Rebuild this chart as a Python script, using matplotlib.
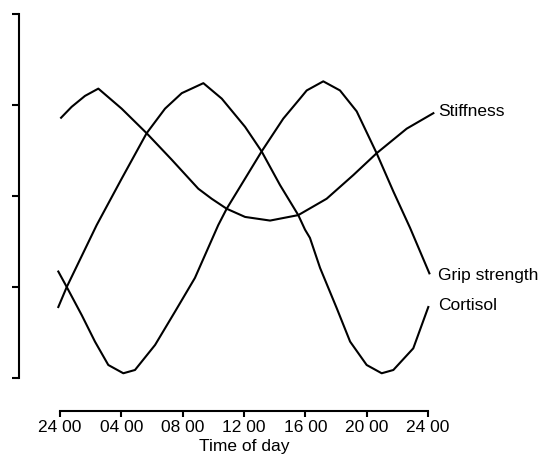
import numpy as np
import matplotlib
matplotlib.use("Agg")
import matplotlib.pyplot as plt

# hours after midnight, values in axis units (0-4)
stiff_h = [0.07, 0.76, 1.63, 2.50, 4.02, 5.65, 7.28, 9.02, 9.89, 10.87, 12.07, 13.70,
           15.54, 17.39, 19.13, 20.65, 22.61, 24.35]
stiff_v = [2.86, 2.98, 3.10, 3.18, 2.96, 2.69, 2.40, 2.08, 1.97, 1.86, 1.77, 1.73,
           1.79, 1.97, 2.23, 2.47, 2.74, 2.91]

grip_h = [-0.11, 0.44, 1.42, 2.28, 3.15, 4.13, 4.89, 6.20, 7.50, 8.80, 10.32, 10.87,
          11.74, 13.15, 14.56, 15.65, 16.09, 17.17, 18.26, 19.35, 20.65, 21.74, 22.83, 24.09]
grip_v = [1.17, 1.00, 0.69, 0.40, 0.143, 0.052, 0.088, 0.363, 0.729, 1.10, 1.68, 1.86,
          2.10, 2.49, 2.85, 3.07, 3.16, 3.26, 3.16, 2.93, 2.47, 2.05, 1.65, 1.15]

cort_h = [-0.11, 0.44, 2.39, 4.02, 5.65, 6.85, 7.94, 9.35, 10.55, 12.07, 13.15, 14.35,
          15.54, 15.98, 16.30, 16.96, 18.05, 18.92, 20.0, 20.98, 21.74, 23.04, 24.02]
cort_v = [0.78, 1.00, 1.68, 2.19, 2.69, 2.96, 3.13, 3.24, 3.07, 2.76, 2.49, 2.12,
          1.79, 1.63, 1.54, 1.21, 0.766, 0.40, 0.143, 0.052, 0.088, 0.326, 0.78]

xticks = [0, 4, 8, 12, 16, 20, 24]
xlabels = ["24 00", "04 00", "08 00", "12 00", "16 00", "20 00", "24 00"]
yticks = [0, 1, 2, 3, 4]

plt.rcParams['font.family'] = ['Liberation Sans', 'DejaVu Sans']

W, H = 538, 455
fig = plt.figure(figsize=(W / 100, H / 100), dpi=100)
ax = fig.add_axes([60 / W, (H - 378) / H, 368 / W, 364 / H])

lw = 1.5
for hh, vv in [(stiff_h, stiff_v), (grip_h, grip_v), (cort_h, cort_v)]:
    ax.plot(hh, vv, color="black", lw=lw, clip_on=False, solid_joinstyle="round")

ax.set_xlim(0, 24)
ax.set_ylim(0, 4)

for s in ["top", "right"]:
    ax.spines[s].set_visible(False)
ax.spines["left"].set_position(("outward", 41.5 * 0.72))
ax.spines["bottom"].set_position(("outward", 33 * 0.72))
ax.spines["left"].set_bounds(0, 4)
ax.spines["bottom"].set_bounds(0, 24)
ax.spines["left"].set_linewidth(1.5)
ax.spines["bottom"].set_linewidth(1.5)

ax.set_xticks(xticks)
ax.set_xticklabels(xlabels, fontsize=12.5)
ax.set_yticks(yticks)
ax.set_yticklabels([])
ax.tick_params(axis="x", length=4, width=1.5, pad=2.5)
ax.tick_params(axis="y", length=5, width=1.5)
ax.set_xlabel("Time of day", fontsize=12.5, labelpad=2.5)

ax.text(24.65, 2.93, "Stiffness", fontsize=12.5, va="center", ha="left")
ax.text(24.65, 1.13, "Grip strength", fontsize=12.5, va="center", ha="left")
ax.text(24.65, 0.80, "Cortisol", fontsize=12.5, va="center", ha="left")

fig.savefig("out.png", dpi=100)
